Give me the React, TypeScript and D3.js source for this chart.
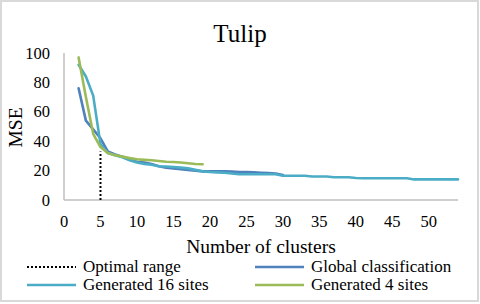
import React from "react";
import * as d3 from "d3";

const title = "Tulip";
const xTitle = "Number of clusters";
const yTitle = "MSE";
const xTicks = [0, 5, 10, 15, 20, 25, 30, 35, 40, 45, 50];
const yTicks = [0, 20, 40, 60, 80, 100];

const optimalX = [5, 5];
const optimalY = [0, 33];

const globalX = d3.range(2, 31);
const globalY = [76, 54, 48, 42, 33, 31, 29.5, 27.5, 26, 25.5, 24.5, 23, 22, 21.5, 21, 20.5, 20, 19.5, 19.5, 19.5, 19.5, 19.3, 19, 19, 18.8, 18.5, 18.3, 18, 17];

const gen16X = d3.range(2, 55);
const gen16Y = [92, 84, 71, 38, 32, 30.5, 29, 27, 25.5, 24.5, 24, 23, 22.8, 22.5, 22, 21.5, 20.5, 19.5, 19, 18.8, 18.5, 18, 17.5, 17.5, 17.5, 17.5, 17.5, 17.5, 16.5, 16.5, 16.5, 16.5, 16, 16, 16, 15.5, 15.5, 15.5, 15, 14.8, 14.8, 14.8, 14.8, 14.8, 14.8, 14.8, 14, 14, 14, 14, 14, 14, 14];

const gen4X = d3.range(2, 20);
const gen4Y = [97, 70, 45, 36, 32, 30.5, 29.5, 28.5, 27.7, 27.3, 27, 26.5, 26, 25.8, 25.5, 25, 24.5, 24.3];

const legendLabels = ["Optimal range", "Global classification", "Generated 16 sites", "Generated 4 sites"];
const colors = ["#000000", "#4F81BD", "#4BACC6", "#9BBB59"];

const W = 480;
const H = 304;
const font = "Liberation Serif";

export default function App() {
  const x = d3.scaleLinear().domain([0, 54]).range([64, 458]);
  const y = d3.scaleLinear().domain([0, 100]).range([200, 53]);
  const line = d3
    .line<[number, number]>()
    .x((d) => x(d[0]))
    .y((d) => y(d[1]));

  const series = [
    { xs: globalX, ys: globalY, color: colors[1] },
    { xs: gen16X, ys: gen16Y, color: colors[2] },
    { xs: gen4X, ys: gen4Y, color: colors[3] },
  ];

  const legendItems = [
    { label: legendLabels[0], color: colors[0], dotted: true, lx: 27, ly: 267 },
    { label: legendLabels[1], color: colors[1], dotted: false, lx: 255, ly: 267 },
    { label: legendLabels[2], color: colors[2], dotted: false, lx: 27, ly: 285 },
    { label: legendLabels[3], color: colors[3], dotted: false, lx: 255, ly: 285 },
  ];

  const ts = (size: number) => ({ fontFamily: font, fontSize: size + "px" });

  return (
    <svg width={W} height={H} style={{ position: "absolute", left: 0, top: 0, background: "#fff" }}>
      <rect x={1} y={1} width={477} height={300} fill="#fff" stroke="#d9d9d9" strokeWidth={2} />
      <text x={240} y={42} textAnchor="middle" style={ts(25)} fill="#000">
        {title}
      </text>
      <line x1={x(0)} x2={x(0)} y1={y(100)} y2={y(0)} stroke="#bfbfbf" strokeWidth={1.5} />
      <line x1={x(0)} x2={x(54)} y1={y(0)} y2={y(0)} stroke="#bfbfbf" strokeWidth={1.5} />
      {yTicks.map((t) => (
        <text key={"y" + t} x={50} y={y(t) + 5.5} textAnchor="end" style={ts(16.5)} fill="#000">
          {t}
        </text>
      ))}
      {xTicks.map((t) => (
        <text key={"x" + t} x={x(t)} y={227} textAnchor="middle" style={ts(16.5)} fill="#000">
          {t}
        </text>
      ))}
      <text x={261} y={253} textAnchor="middle" style={ts(19.5)} fill="#000">
        {xTitle}
      </text>
      <text transform={`translate(21.5,127.5) rotate(-90)`} textAnchor="middle" style={ts(19.5)} fill="#000">
        {yTitle}
      </text>
      <path
        d={line(optimalX.map((v, i) => [v, optimalY[i]]) as [number, number][]) || ""}
        stroke="#000"
        strokeWidth={2}
        strokeDasharray="2 2"
        fill="none"
      />
      {series.map((s, i) => (
        <path
          key={i}
          d={line(s.xs.map((v, j) => [v, s.ys[j]]) as [number, number][]) || ""}
          stroke={s.color}
          strokeWidth={2.6}
          strokeLinejoin="round"
          strokeLinecap="round"
          fill="none"
        />
      ))}
      {legendItems.map((it, i) => (
        <g key={"l" + i}>
          <line
            x1={it.lx}
            x2={it.lx + 49}
            y1={it.ly}
            y2={it.ly}
            stroke={it.color}
            strokeWidth={it.dotted ? 2 : 2.6}
            strokeDasharray={it.dotted ? "2 2" : undefined}
          />
          <text x={it.lx + 56} y={it.ly + 5} style={ts(17)} fill="#000">
            {it.label}
          </text>
        </g>
      ))}
    </svg>
  );
}
